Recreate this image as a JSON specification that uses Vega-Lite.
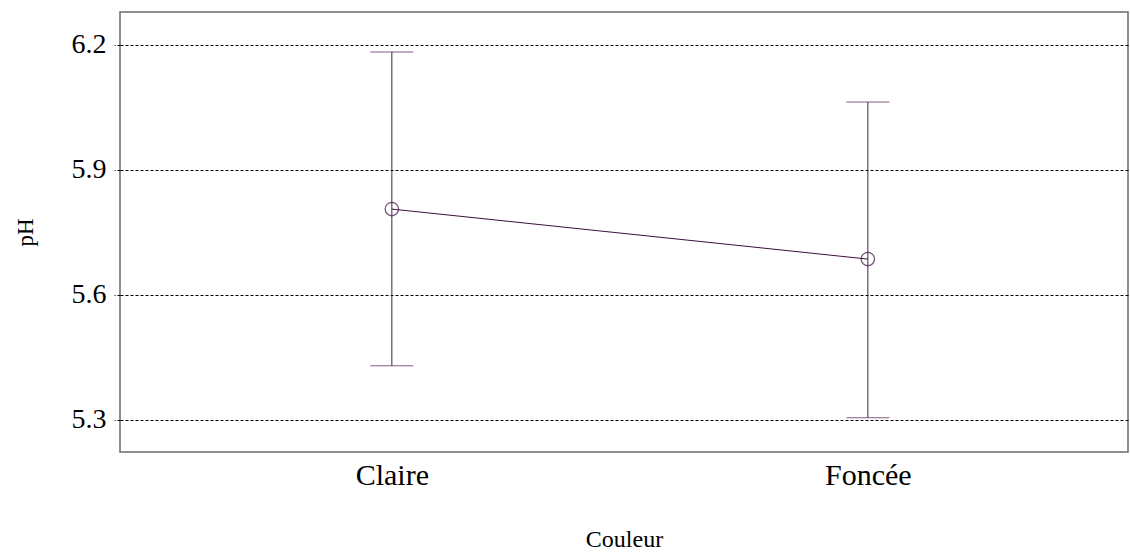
{
  "$schema": "https://vega.github.io/schema/vega-lite/v6.json",
  "autosize": "none",
  "padding": {"left": 120, "top": 12, "right": 2, "bottom": 100},
  "width": 1008,
  "height": 440,
  "background": "white",
  "config": {
    "view": {"stroke": "#6b6b6b", "strokeWidth": 1.5},
    "font": "Liberation Serif",
    "axis": {"labelFont": "Liberation Serif", "titleFont": "Liberation Serif"}
  },
  "data": {
    "values": [
      {"Couleur": "Claire", "pH": 5.806, "low": 5.43, "high": 6.183},
      {"Couleur": "Foncée", "pH": 5.686, "low": 5.305, "high": 6.063}
    ]
  },
  "encoding": {
    "x": {
      "field": "Couleur",
      "type": "ordinal",
      "scale": {"type": "point", "padding": 0.5588, "align": 0.511},
      "axis": {
        "title": "Couleur",
        "titleFontSize": 24,
        "titleFontWeight": "normal",
        "titleColor": "black",
        "titlePadding": 37,
        "labelFontSize": 30,
        "labelColor": "black",
        "labelAngle": 0,
        "labelPadding": 8,
        "ticks": false,
        "domain": false,
        "grid": false
      }
    }
  },
  "layer": [
    {
      "mark": {"type": "rule", "color": "#4d1a4d", "strokeWidth": 1},
      "encoding": {
        "y": {
          "field": "low",
          "type": "quantitative",
          "scale": {"domain": [5.223, 6.279], "nice": false, "zero": false},
          "axis": {
            "title": "pH",
            "titleFontSize": 23,
            "titleFontWeight": "normal",
            "titleColor": "black",
            "titlePadding": 34,
            "values": [5.3, 5.6, 5.9, 6.2],
            "format": ".1f",
            "labelFontSize": 28,
            "labelColor": "black",
            "labelPadding": 8,
            "tickSize": 6,
            "tickColor": "black",
            "tickDash": [3, 2],
            "domain": false,
            "grid": true,
            "gridColor": "black",
            "gridDash": [3, 2],
            "gridWidth": 1,
            "gridOpacity": 1
          }
        },
        "y2": {"field": "high"}
      }
    },
    {
      "mark": {"type": "tick", "orient": "horizontal", "color": "#4d1a4d", "size": 43, "thickness": 1},
      "encoding": {"y": {"field": "low", "type": "quantitative"}}
    },
    {
      "mark": {"type": "tick", "orient": "horizontal", "color": "#4d1a4d", "size": 43, "thickness": 1},
      "encoding": {"y": {"field": "high", "type": "quantitative"}}
    },
    {
      "mark": {"type": "line", "color": "#3d0f3d", "strokeWidth": 1},
      "encoding": {"y": {"field": "pH", "type": "quantitative"}}
    },
    {
      "mark": {"type": "point", "shape": "circle", "filled": false, "color": "#3d0f3d", "size": 180, "strokeWidth": 1.3},
      "encoding": {"y": {"field": "pH", "type": "quantitative"}}
    }
  ]
}
